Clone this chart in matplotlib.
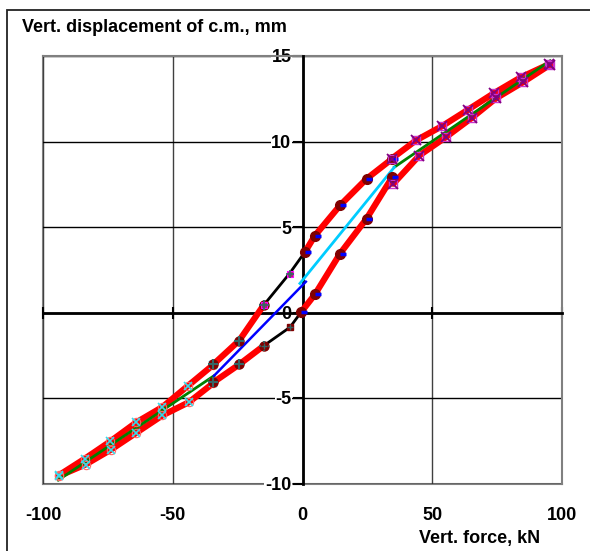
import matplotlib.pyplot as plt
import matplotlib.transforms as mtransforms
from matplotlib.patches import Rectangle

plt.rcParams['font.family'] = ['Liberation Sans', 'DejaVu Sans']
plt.rcParams['font.weight'] = 'bold'
plt.rcParams['axes.unicode_minus'] = False

# hysteresis loop, measured points (force kN, displacement mm)
# loading branch (upper curve)
up_left_x = [-94, -84, -74, -64, -54, -44, -34.4]
up_left_y = [-9.53, -8.56, -7.53, -6.42, -5.53, -4.27, -3.06]
up_mid_x = [-34.4, -24.4, -15]
up_mid_y = [-3.04, -1.64, 0.42]
up_lin_x = [-15, -5, 1]
up_lin_y = [0.42, 2.28, 3.55]
up_ctr_x = [1, 4.8, 14.5, 24.7, 34.4]
up_ctr_y = [3.55, 4.5, 6.27, 7.82, 8.97]
up_right_x = [34.4, 43.7, 53.8, 63.9, 73.9, 84.1, 95.1]
up_right_y = [9.0, 10.06, 10.9, 11.87, 12.84, 13.75, 14.53]

# unloading branch (lower curve)
lo_left_x = [-94, -83.6, -73.8, -64.2, -54, -43.7, -34.4]
lo_left_y = [-9.57, -8.89, -8.02, -7.05, -6.02, -5.24, -4.13]
lo_mid_x = [-34.4, -24.4, -14.8]
lo_mid_y = [-4.09, -3.04, -1.93]
lo_lin_x = [-14.8, -4.8, -0.5]
lo_lin_y = [-1.93, -0.86, 0.03]
lo_ctr_x = [-0.5, 4.8, 14.5, 24.7, 34.6]
lo_ctr_y = [0.03, 1.06, 3.45, 5.49, 7.92]
lo_right_x = [35, 45, 55.2, 65.2, 74.6, 84.9, 95.4]
lo_right_y = [7.53, 9.18, 10.25, 11.38, 12.53, 13.46, 14.49]

# straight-line approximations
fit_left_x = [-94.1, -34.1]
fit_left_y = [-9.8, -3.7]
fit_neg_x = [-34.1, 1.3]
fit_neg_y = [-3.7, 1.8]
fit_pos_x = [-1, 35.4]
fit_pos_y = [1.7, 8.5]
fit_right_x = [35.4, 95.4]
fit_right_y = [8.5, 14.72]

xticks = [-100, -50, 0, 50, 100]
yticks = [-10, -5, 0, 5, 10, 15]

fig = plt.figure(figsize=(5.9, 5.51), dpi=100)
ax = fig.add_axes([43/590, 1-483.5/551, (562-43)/590, (483.5-56)/551])

# outer chart frame
fig.patches.append(Rectangle((7/590, -0.2), 1.5, 0.2+1-10/551, transform=fig.transFigure,
                             fill=False, edgecolor='#222222', lw=1.3))

red = '#FF0000'
lw_red = 4.5
for xs, ys in [(up_left_x, up_left_y), (up_mid_x, up_mid_y), (up_ctr_x, up_ctr_y),
               (up_right_x, up_right_y), (lo_left_x, lo_left_y), (lo_mid_x, lo_mid_y),
               (lo_ctr_x, lo_ctr_y), (lo_right_x, lo_right_y)]:
    ax.plot(xs, ys, color=red, lw=lw_red, solid_capstyle='round', zorder=3)

ax.plot(up_lin_x, up_lin_y, color='black', lw=2, zorder=4)
ax.plot(lo_lin_x, lo_lin_y, color='black', lw=2, zorder=4)

ax.plot(fit_left_x, fit_left_y, color='#008000', lw=2, zorder=4)
ax.plot(fit_right_x, fit_right_y, color='#008000', lw=2, zorder=4)
ax.plot(fit_neg_x, fit_neg_y, color='#0000FF', lw=1.8, zorder=4)
ax.plot(fit_pos_x, fit_pos_y, color='#00CCFF', lw=2, zorder=4)

# markers
for xs, ys in [(up_left_x, up_left_y), (lo_left_x, lo_left_y)]:
    ax.plot(xs, ys, ls='none', marker='o', ms=6, mfc='none', mec='#FF6666', mew=0.8, zorder=5)
    ax.plot(xs, ys, ls='none', marker='x', ms=6, mec='#33DDEE', mew=1.2, zorder=5)
for xs, ys in [(up_mid_x, up_mid_y), (lo_mid_x, lo_mid_y)]:
    ax.plot(xs, ys, ls='none', marker='o', ms=6.5, mfc='#800000', mec='#800000', zorder=5)
    ax.plot(xs, ys, ls='none', marker='+', ms=7, mec='#336666', mew=1.5, zorder=5)
ax.plot(up_lin_x, up_lin_y, ls='none', marker='s', ms=5, mfc='#993366', mec='#FF00FF', mew=0.8, zorder=5)
ax.plot(up_lin_x, up_lin_y, ls='none', marker='+', ms=6, mec='#336666', mew=1.2, zorder=5)
ax.plot(lo_lin_x, lo_lin_y, ls='none', marker='s', ms=4.5, mfc='#800000', mec='#800000', zorder=5)
ax.plot(lo_lin_x, lo_lin_y, ls='none', marker='+', ms=5, mec='#336666', mew=1, zorder=5)
dash_shift = mtransforms.offset_copy(ax.transData, fig=fig, x=2, y=0, units='points')
for xs, ys in [(up_ctr_x, up_ctr_y), (lo_ctr_x, lo_ctr_y)]:
    ax.plot(xs, ys, ls='none', marker='o', ms=7, mfc='#800000', mec='#800000', zorder=5)
    ax.plot(xs, ys, ls='none', marker='_', ms=5, mec='#0000FF', mew=2.5,
            transform=dash_shift, zorder=5)
for xs, ys in [(up_right_x, up_right_y), (lo_right_x, lo_right_y)]:
    ax.plot(xs, ys, ls='none', marker='s', ms=6, mfc='none', mec='#CC33CC', mew=1, zorder=5)
    ax.plot(xs, ys, ls='none', marker='x', ms=7, mec='#800080', mew=1.3, zorder=5)

ax.set_xlim(-100, 100)
ax.set_ylim(-10, 15)
ax.set_xticks(xticks)
ax.set_yticks(yticks)

# axis lines crossing at the origin
ax.spines['left'].set_position(('data', 0))
ax.spines['bottom'].set_position(('data', 0))
ax.spines['left'].set_linewidth(2)
ax.spines['bottom'].set_linewidth(2)
ax.spines['left'].set_zorder(2.6)
ax.spines['bottom'].set_zorder(2.6)
for side in ['top', 'right']:
    ax.spines[side].set_color('#808080')
    ax.spines[side].set_linewidth(1.5)
ax.tick_params(axis='x', direction='inout', length=8, width=1.5, labelbottom=False)
ax.tick_params(axis='y', direction='out', length=7, width=1.5, pad=1, labelsize=13)
for lab in ax.get_yticklabels():
    lab.set_fontweight('bold')
    lab.set_bbox(dict(facecolor='white', edgecolor='none', pad=0.5))

ax.grid(True, axis='x', color='#404040', lw=1)
ax.grid(True, axis='y', color='black', lw=1)
ax.set_axisbelow(True)

# plot-area border and bottom tick labels
secx = ax.secondary_xaxis('bottom')
secx.set_xticks(xticks)
secx.tick_params(length=0, pad=17, labelsize=13)
secx.spines['bottom'].set_color('#808080')
secx.spines['bottom'].set_linewidth(1.5)
for lab in secx.get_xticklabels():
    lab.set_fontweight('bold')
secy = ax.secondary_yaxis('left')
secy.set_yticks([])
secy.spines['left'].set_color('#808080')
secy.spines['left'].set_linewidth(1.5)

fig.text(22/590, 1-27/551, 'Vert. displacement of c.m., mm', fontsize=13, fontweight='bold',
         ha='left', va='center')
fig.text(540/590, 1-539/551, 'Vert. force, kN', fontsize=13, fontweight='bold',
         ha='right', va='center')

fig.savefig('out.png', dpi=100)
